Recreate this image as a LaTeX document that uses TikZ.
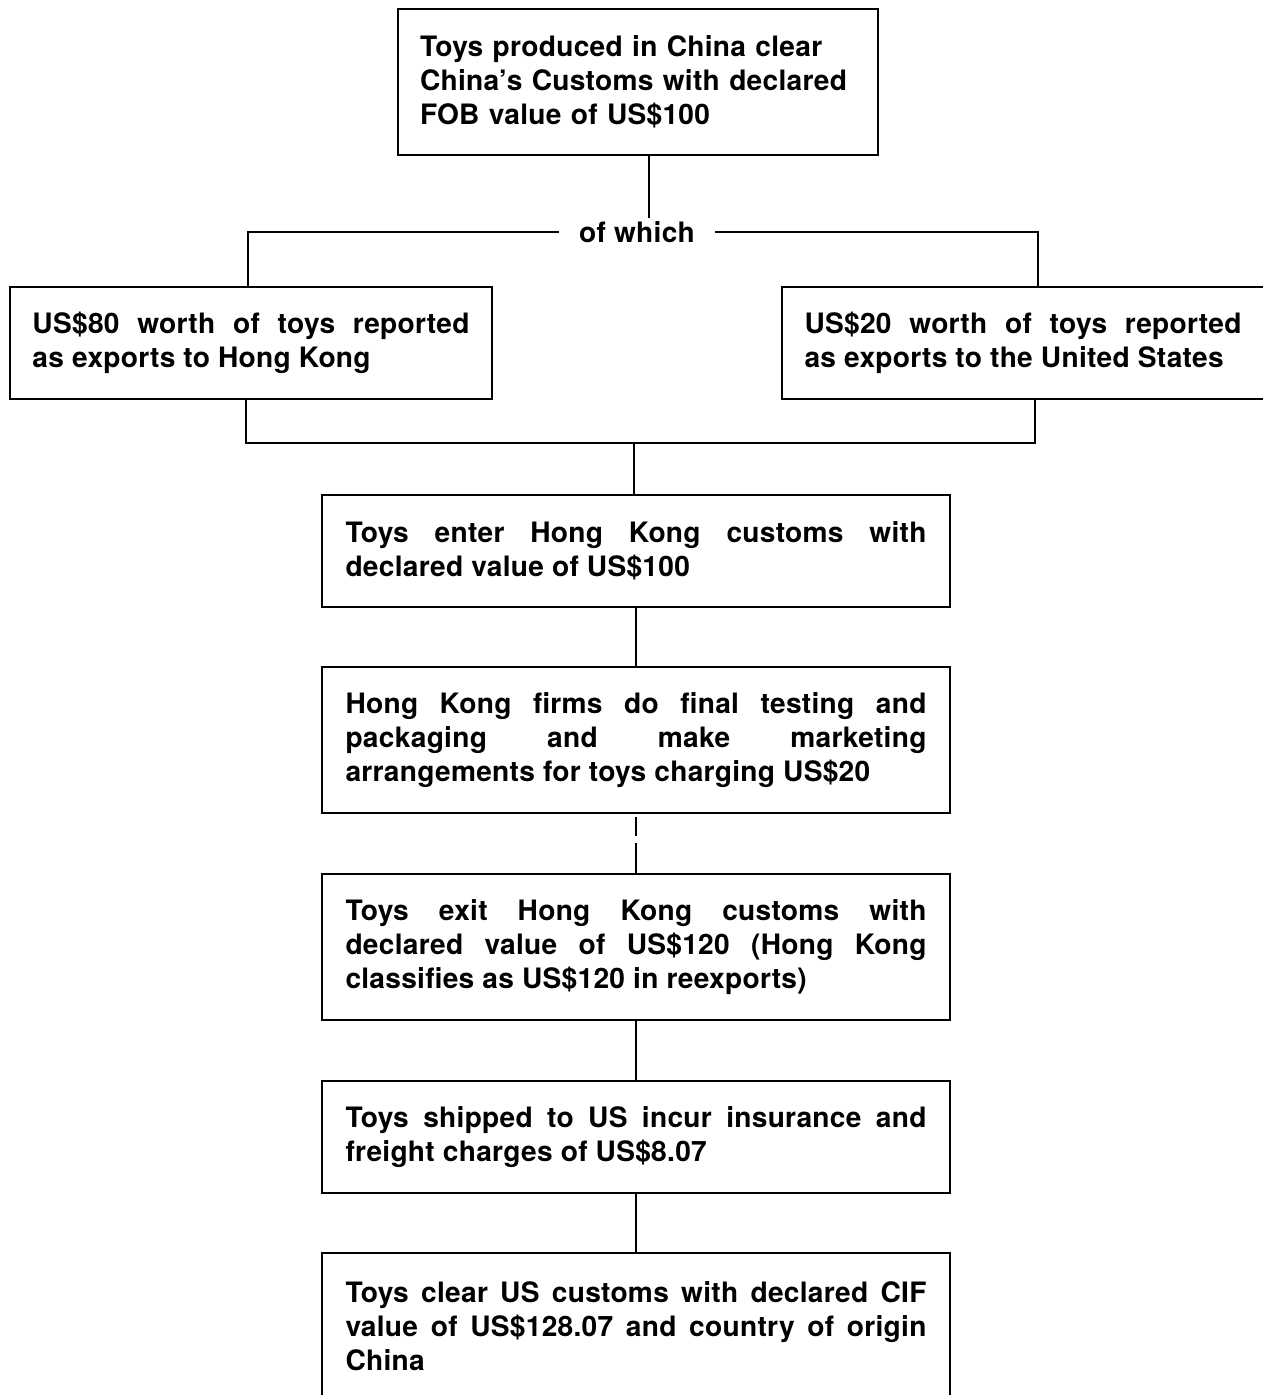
\documentclass[tikz,border=0pt]{standalone}
\usepackage{fontspec}
\setmainfont{TeX Gyre Heros}[LetterSpace=1]
\usetikzlibrary{positioning}

\begin{document}
\begin{tikzpicture}[
  box/.style = {draw, line width=1.5pt, outer sep=0pt, align=justify, anchor=north, inner xsep=0.47cm, inner ysep=0pt, font=\fontsize{16}{19.4}\selectfont\bfseries},
  twoline/.style = {box, minimum height=2.24cm},
  threeline/.style = {box, minimum height=2.92cm},
  wide/.style = {text width=11.62cm},
  narrow/.style = {text width=8.74cm, inner xsep=0.45cm},
  link/.style = {line width=1.2pt},
  gap/.style = {link, dash pattern=on 0pt off 0.08cm on 0.38cm off 0.14cm on 0.62cm},
  label/.style = {font=\fontsize{16}{19.4}\selectfont\bfseries, inner xsep=0.4cm, inner ysep=2pt}
]
  \useasboundingbox (0,0) rectangle (25.26,-27.9);

  % Nodes
  \node[threeline, text width=8.72cm, inner xsep=0.44cm, align=left] (china) at (12.76,-0.18) {Toys produced in China clear\\China’s Customs with declared\\FOB value of US\$100};
  \node[label] (which) at (12.74,-4.64) {of which};
  \node[twoline, narrow] (hkexp) at (5.02,-5.74) {US\$80 worth of toys reported\linebreak as exports to Hong Kong};
  \node[twoline, narrow] (usexp) at (20.46,-5.74) {US\$20 worth of toys reported\linebreak as exports to the United States};
  \node[twoline, wide, below=6.8cm of china, xshift=-0.04cm] (enter) {Toys enter Hong Kong customs with\linebreak declared value of US\$100};
  \node[threeline, wide, below=1.2cm of enter] (firms) {Hong Kong firms do final testing and\linebreak packaging and make marketing\linebreak arrangements for toys charging US\$20};
  \node[threeline, wide, below=1.22cm of firms] (exit) {Toys exit Hong Kong customs with\linebreak declared value of US\$120 (Hong Kong\linebreak classifies as US\$120 in reexports)};
  \node[twoline, wide, below=1.22cm of exit] (shipped) {Toys shipped to US incur insurance and\linebreak freight charges of US\$8.07};
  \node[threeline, wide, below=1.2cm of shipped] (clear) {Toys clear US customs with declared CIF\linebreak value of US\$128.07 and country of origin\linebreak China};
  \coordinate[above=1.04cm of enter.north, xshift=-0.04cm] (join);

  % Connections
  \draw[link] ([xshift=0.22cm]china.south) -- ([xshift=0.22cm]china.south |- which.north);
  \draw[link] (which.west) -| ([xshift=-0.06cm]hkexp.north);
  \draw[link] (which.east) -| ([xshift=0.3cm]usexp.north);
  \draw[link] ([xshift=-0.1cm]hkexp.south) |- (join) -| ([xshift=0.24cm]usexp.south);
  \draw[link] (join) -- (join |- enter.north);
  \draw[link] (enter.south) -- (firms.north);
  \draw[gap] (firms.south) -- (exit.north);
  \draw[link] (exit.south) -- (shipped.north);
  \draw[link] (shipped.south) -- (clear.north);

\end{tikzpicture}
\end{document}
